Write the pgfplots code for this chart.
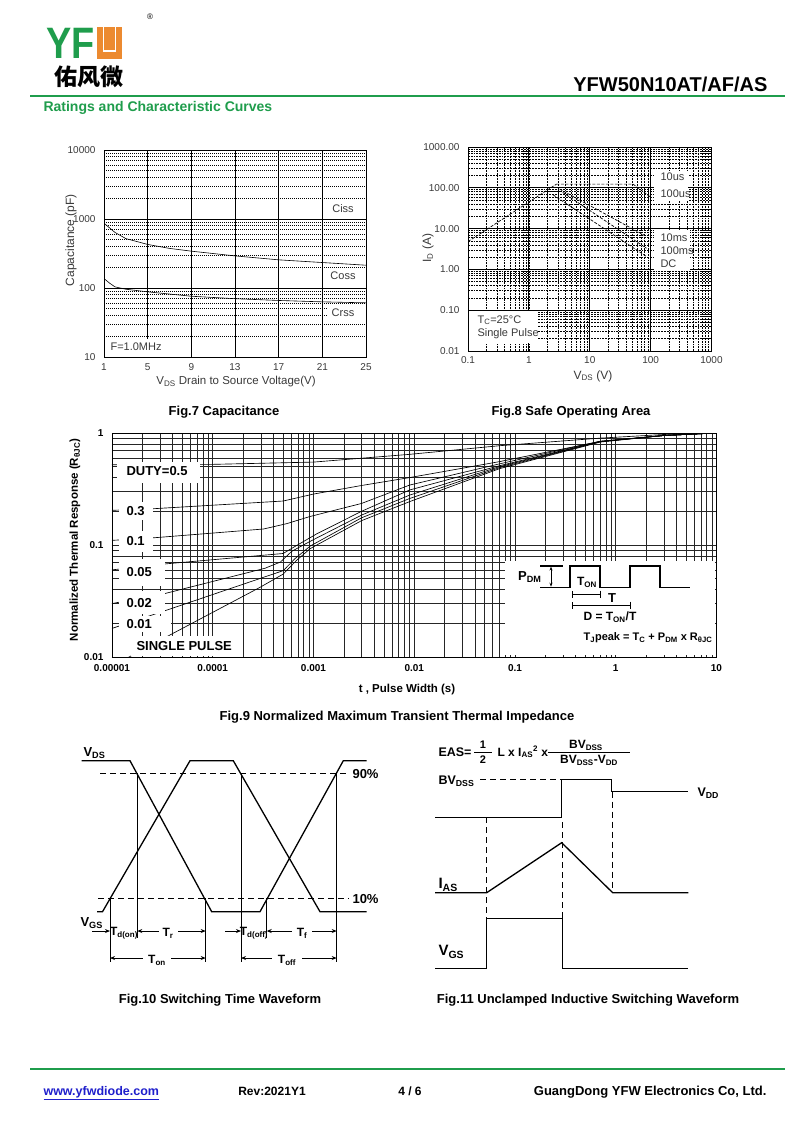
\documentclass[border=0pt]{standalone}
\usepackage{pgfplots}
\pgfplotsset{compat=1.18}
\usepackage{graphicx}
\usepackage{fontspec}
\setmainfont{Liberation Sans}
\newfontfamily\cjk{Noto Sans CJK SC}
\usetikzlibrary{arrows.meta}

\definecolor{yfwgreen}{HTML}{1F9D4C}
\definecolor{yfworange}{HTML}{EC8A30}
\definecolor{labgray}{HTML}{3A3A3A}
\definecolor{linkblue}{HTML}{1F1FCC}

\newcommand{\fsz}[1]{\fontsize{#1}{#1}\selectfont}
\newcommand{\sub}[1]{\textsubscript{#1}}

\pgfplotsset{
  page/.style={scale only axis, anchor=north west},
  wave/.style={black, line width=1.3pt},
  dim/.style={black, line width=0.9pt},
  dsh/.style={black, line width=1.1pt, dash pattern=on 6pt off 4pt},
  soa/.style={black, line width=0.7pt, dash pattern=on 3pt off 1.5pt},
}

\begin{document}
\begin{tikzpicture}
\fill[white] (0,0) rectangle (800pt,-1130pt);
\path[use as bounding box] (0,0) rectangle (800pt,-1130pt);

% ---------- Fig.7 capacitance
\begin{axis}[page, at={(104pt,-150pt)}, width=262pt, height=207pt,
  xmin=1, xmax=25, ymode=log, ymin=10, ymax=10000,
  xtick={1,5,9,13,17,21,25}, xticklabels={1,5,9,13,17,21,25},
  ytick={10,100,1000,10000}, yticklabels={10,100,1000,10000},
  xmajorgrids, ymajorgrids, yminorgrids,
  major grid style={black, line width=0.7pt},
  minor grid style={black, line width=0.6pt, dash pattern=on 1.2pt off 0.8pt},
  major tick length=0pt, minor tick length=0pt,
  axis line style={black, line width=0.8pt},
  tick label style={font=\fsz{10}, text=labgray},
  xticklabel style={yshift=-3pt}, yticklabel style={xshift=-5pt}]
\addplot[black, line width=0.6pt] coordinates {(1,870) (2,640) (3,520) (5,428) (7,375) (9,342) (13,292) (17,256) (21,234) (25,214)};
\addplot[black, line width=0.6pt] coordinates {(1,137) (1.5,118) (2,104) (3,96) (5,88) (9,76) (13,70) (17,66) (21,63) (25,61)};
\end{axis}

% ---------- Fig.8 safe operating area
\begin{axis}[page, at={(468pt,-147pt)}, width=243.5pt, height=204pt,
  xmode=log, ymode=log, xmin=0.1, xmax=1000, ymin=0.01, ymax=1000,
  xtick={0.1,1,10,100,1000}, xticklabels={0.1,1,10,100,1000},
  ytick={0.01,0.1,1,10,100,1000}, yticklabels={0.01,0.10,1.00,10.00,100.00,1000.00},
  grid=both,
  major grid style={black, line width=0.9pt},
  minor grid style={black, line width=0.65pt, dash pattern=on 1.8pt off 1pt},
  major tick length=0pt, minor tick length=0pt,
  axis line style={black, line width=0.8pt},
  tick label style={font=\fsz{10}, text=labgray},
  xticklabel style={yshift=-2pt}, yticklabel style={xshift=-5pt}]
\addplot[soa] coordinates {(0.1,4.8) (2.84,123)};
\addplot[soa] coordinates {(2.84,123) (51.5,123) (97,61)};
\addplot[black, line width=1.2pt, dash pattern=on 2pt off 1pt] coordinates {(1.6,80) (3.2,80)};
\addplot[soa] coordinates {(3.2,93) (85.5,6.4)};
\addplot[soa] coordinates {(3.6,77) (85.5,3.3)};
\addplot[soa] coordinates {(2.5,67) (85.5,2.07)};
\end{axis}

% ---------- Fig.9 transient thermal impedance
\begin{axis}[page, at={(112pt,-433pt)}, width=604.5pt, height=224pt,
  xmode=log, ymode=log, xmin=1e-5, xmax=10, ymin=0.01, ymax=1,
  xtick={1e-5,1e-4,1e-3,1e-2,1e-1,1,10},
  xticklabels={0.00001,0.0001,0.001,0.01,0.1,1,10},
  ytick={0.01,0.1,1}, yticklabels={0.01,0.1,1},
  grid=both,
  major grid style={black!85, line width=0.55pt},
  minor grid style={black!85, line width=0.55pt},
  major tick length=0pt, minor tick length=0pt,
  axis line style={black, line width=0.8pt},
  tick label style={font=\fsz{10}\bfseries},
  xticklabel style={yshift=-4pt}, yticklabel style={xshift=-5pt}]
\addplot[black, line width=0.65pt] coordinates {(1e-5,0.52) (1e-4,0.525) (1e-3,0.55) (9e-3,0.645) (7e-2,0.77) (0.7,0.9) (3,0.97) (10,1.0)};
\addplot[black, line width=0.65pt] coordinates {(1e-5,0.204) (2.6e-5,0.211) (5e-4,0.247) (1e-3,0.285) (3e-3,0.34) (9e-3,0.40) (7e-2,0.555) (0.7,0.84) (3,0.95) (10,1.0)};
\addplot[black, line width=0.65pt] coordinates {(1e-5,0.11) (2.6e-5,0.116) (3.2e-4,0.139) (5.4e-4,0.155) (9.3e-4,0.18) (3e-3,0.235) (9e-3,0.343) (7e-2,0.53) (0.7,0.845) (3,0.95) (10,1.0)};
\addplot[black, line width=0.65pt] coordinates {(1e-5,0.06) (3.5e-5,0.068) (5e-4,0.084) (6.8e-4,0.099) (1.08e-3,0.126) (3e-3,0.20) (9e-3,0.31) (7e-2,0.51) (0.7,0.84) (3,0.95) (10,1.0)};
\addplot[black, line width=0.65pt] coordinates {(1e-5,0.030) (3.4e-5,0.037) (3.3e-4,0.062) (4.7e-4,0.0705) (6.1e-4,0.088) (9.3e-4,0.108) (3e-3,0.185) (9e-3,0.279) (7e-2,0.50) (0.7,0.84) (3,0.95) (10,1.0)};
\addplot[black, line width=0.65pt] coordinates {(1e-5,0.018) (3.4e-5,0.026) (3.3e-4,0.052) (5e-4,0.059) (6.6e-4,0.076) (9.3e-4,0.098) (3e-3,0.175) (9e-3,0.26) (7e-2,0.49) (0.7,0.835) (3,0.95) (10,1.0)};
\addplot[black, line width=0.65pt] coordinates {(1.3e-5,0.0094) (3.9e-5,0.016) (2.96e-4,0.042) (5e-4,0.055) (6.8e-4,0.073) (9.3e-4,0.093) (3e-3,0.165) (9e-3,0.244) (7e-2,0.48) (0.7,0.83) (3,0.95) (10,1.0)};
\end{axis}

% ---------- page overlay: texts, boxes, waveform diagrams (pixel units)
\begin{axis}[page, at={(0pt,0pt)}, width=800pt, height=1130pt,
  xmin=0, xmax=800, ymin=0, ymax=1130, y dir=reverse,
  axis lines=none, clip=false,
  every node/.append style={inner sep=0pt, outer sep=0pt}]

% header
\draw[yfwgreen, line width=2pt] (30,96) -- (785,96);
\node[anchor=base west, text=yfwgreen, font=\fsz{44}\bfseries] at (43,58.5) {\scalebox{0.86}[1]{YF}};
\fill[yfworange] (97,27) rectangle (122,58.5);
\draw[white, line width=1.4pt] (103.5,27) -- (103.5,51) -- (115.5,51) -- (115.5,27);
\node[font=\fsz{8}] at (150,17) {\textregistered};
\node[font=\cjk\fsz{23}\bfseries] at (89,77) {佑风微};
\node[anchor=base east, font=\fsz{20}\bfseries] at (771,91) {YFW50N10AT/AF/AS};
\node[anchor=base west, text=yfwgreen, font=\fsz{14}\bfseries] at (40,111) {Ratings and Characteristic Curves};

% fig7 texts
\fill[white] (327,200) rectangle (365,217);
\fill[white] (327,268) rectangle (365,284);
\fill[white] (327,306) rectangle (365,322);
\fill[white] (104.5,339) rectangle (160,356.5);
\node[font=\fsz{11}, text=labgray] at (343,209) {Ciss};
\node[font=\fsz{11}, text=labgray] at (343,276) {Coss};
\node[font=\fsz{11}, text=labgray] at (343,313) {Crss};
\node[anchor=west, font=\fsz{11}, text=labgray] at (107,347) {F=1.0MHz};
\node[rotate=90, font=\fsz{12}, text=labgray] at (71,240) {Capacitance (pF)};
\node[font=\fsz{11.5}, text=labgray] at (236,382) {V\sub{DS} Drain to Source Voltage(V)};
\node[anchor=base, font=\fsz{13}\bfseries] at (224,415) {Fig.7 Capacitance};

% fig8 texts
\fill[white] (654,171) rectangle (688,201);
\fill[white] (654,230) rectangle (690,270);
\fill[white] (469,311) rectangle (537,343);
\node[anchor=west, font=\fsz{11}, text=labgray] at (657,177) {10us};
\node[anchor=west, font=\fsz{11}, text=labgray] at (657,194) {100us};
\node[anchor=west, font=\fsz{11}, text=labgray] at (657,238) {10ms};
\node[anchor=west, font=\fsz{11}, text=labgray] at (657,251) {100ms};
\node[anchor=west, font=\fsz{11}, text=labgray] at (657,264) {DC};
\node[anchor=west, font=\fsz{11}, text=labgray] at (474,320) {T\sub{C}=25°C};
\node[anchor=west, font=\fsz{11}, text=labgray] at (474,334) {Single Pulse};
\node[rotate=90, font=\fsz{12}, text=labgray] at (428,248) {I\sub{D} (A)};
\node[font=\fsz{12}, text=labgray] at (593,376) {V\sub{DS} (V)};
\node[anchor=base, font=\fsz{13}\bfseries] at (571,415) {Fig.8 Safe Operating Area};

% fig9 labels
\fill[white] (117,462) rectangle (200,483);
\fill[white] (119,502) rectangle (153,520);
\fill[white] (119,531) rectangle (153,552);
\fill[white] (119,559) rectangle (165,586);
\fill[white] (119,591) rectangle (165,614);
\fill[white] (119,616) rectangle (171,632);
\fill[white] (131,636) rectangle (240,656);
\node[anchor=west, font=\fsz{13}\bfseries] at (123,471) {DUTY=0.5};
\node[anchor=west, font=\fsz{13}\bfseries] at (123,511) {0.3};
\node[anchor=west, font=\fsz{13}\bfseries] at (123,541) {0.1};
\node[anchor=west, font=\fsz{13}\bfseries] at (123,572) {0.05};
\node[anchor=west, font=\fsz{13}\bfseries] at (123,603) {0.02};
\node[anchor=west, font=\fsz{13}\bfseries] at (123,624) {0.01};
\node[anchor=west, font=\fsz{13}\bfseries] at (133,646) {SINGLE PULSE};
\node[rotate=90, font=\fsz{11.5}\bfseries] at (75,540) {Normalized Thermal Response (R\sub{θJC})};
\node[anchor=base, font=\fsz{11.5}\bfseries] at (407,692) {t , Pulse Width (s)};
\node[anchor=base, font=\fsz{13}\bfseries] at (397,720) {Fig.9 Normalized Maximum Transient Thermal Impedance};

% fig9 inset
\fill[white] (505,561) rectangle (715.4,655.4);
\addplot[black, line width=1.1pt] coordinates {(540,587.3) (570,587.3) (570,566) (600,566) (600,587.3) (630,587.3) (630,566) (660,566) (660,587.3) (690,587.3)};
\addplot[black, line width=1.1pt] coordinates {(540,566) (563,566)};
\addplot[black, line width=0.8pt, {Stealth[length=4pt,width=3pt]}-{Stealth[length=4pt,width=3pt]}] coordinates {(551,566.6) (551,586.7)};
\addplot[black, line width=1pt, |-|] coordinates {(572,594) (601,594)};
\addplot[black, line width=1pt, |-|] coordinates {(572,605) (631,605)};
\node[anchor=east, font=\fsz{13}\bfseries] at (545,577) {P\sub{DM}};
\node[font=\fsz{12}\bfseries] at (587,582) {T\sub{ON}};
\node[font=\fsz{13}\bfseries] at (612,598) {T};
\node[anchor=west, font=\fsz{12}\bfseries] at (580,617) {D = T\sub{ON}/T};
\node[anchor=west, font=\fsz{11}\bfseries] at (580,638) {T\sub{J}peak = T\sub{C} + P\sub{DM} x R\sub{θJC}};

% fig10 switching waveform
\addplot[wave] coordinates {(81.7,760.7) (130,760.7) (211.7,911.7) (260,911.7) (343.3,760.7) (366.7,760.7)};
\addplot[wave] coordinates {(97,911.7) (102.5,911.7) (190,760.7) (233.3,760.7) (320,911.7) (366.7,911.7)};
\addplot[dsh] coordinates {(100,773.3) (349,773.3)};
\addplot[dsh] coordinates {(98,898.3) (349,898.3)};
\addplot[dim] coordinates {(110,898.3) (110,961.7)};
\addplot[dim] coordinates {(137.3,773.3) (137.3,938)};
\addplot[dim] coordinates {(205.7,898.3) (205.7,961.7)};
\addplot[dim] coordinates {(241,773.3) (241,961.7)};
\addplot[dim] coordinates {(266.7,898.3) (266.7,938)};
\addplot[dim] coordinates {(336.7,773.3) (336.7,961.7)};
\addplot[dim, -{Stealth[length=5pt,width=4pt]}] coordinates {(92,931) (110,931)};
\addplot[dim, {Stealth[length=5pt,width=4pt]}-] coordinates {(137.3,931) (159,931)};
\addplot[dim, -{Stealth[length=5pt,width=4pt]}] coordinates {(178,931) (205.7,931)};
\addplot[dim, -{Stealth[length=5pt,width=4pt]}] coordinates {(225,931) (241,931)};
\addplot[dim, {Stealth[length=5pt,width=4pt]}-] coordinates {(266.7,931) (292,931)};
\addplot[dim, -{Stealth[length=5pt,width=4pt]}] coordinates {(312,931) (336.7,931)};
\addplot[dim, {Stealth[length=5pt,width=4pt]}-] coordinates {(110,958) (143,958)};
\addplot[dim, -{Stealth[length=5pt,width=4pt]}] coordinates {(171,958) (205.7,958)};
\addplot[dim, {Stealth[length=5pt,width=4pt]}-] coordinates {(241,958) (272,958)};
\addplot[dim, -{Stealth[length=5pt,width=4pt]}] coordinates {(302,958) (336.7,958)};
\node[anchor=west, font=\fsz{13}\bfseries] at (80,753) {V\sub{DS}};
\node[anchor=west, font=\fsz{13}\bfseries] at (77,923) {V\sub{GS}};
\node[anchor=west, font=\fsz{13}\bfseries] at (349,774) {90\%};
\node[anchor=west, font=\fsz{13}\bfseries] at (349,899) {10\%};
\node[font=\fsz{12}\bfseries] at (124,933) {T\sub{d(on)}};
\node[font=\fsz{12}\bfseries] at (168,933) {T\sub{r}};
\node[font=\fsz{12}\bfseries] at (254,933) {T\sub{d(off)}};
\node[font=\fsz{12}\bfseries] at (302,933) {T\sub{f}};
\node[font=\fsz{12}\bfseries] at (157,960) {T\sub{on}};
\node[font=\fsz{12}\bfseries] at (287,960) {T\sub{off}};
\node[anchor=base, font=\fsz{13}\bfseries] at (220,1003) {Fig.10 Switching Time Waveform};

% fig11 unclamped inductive switching
\node[anchor=west, font=\fsz{12.5}\bfseries] at (435,752) {EAS=};
\addplot[black, line width=0.7pt] coordinates {(474,752) (492,752)};
\node[font=\fsz{11}\bfseries] at (483,745) {1};
\node[font=\fsz{11}\bfseries] at (483,760) {2};
\node[anchor=west, font=\fsz{12}\bfseries] at (494,752) {L x I\sub{AS}\textsuperscript{2} x};
\addplot[black, line width=0.7pt] coordinates {(548,752) (630,752)};
\node[font=\fsz{12}\bfseries] at (586,745) {BV\sub{DSS}};
\node[font=\fsz{12}\bfseries] at (589,760) {BV\sub{DSS}-V\sub{DD}};
\addplot[wave] coordinates {(435,817.3) (561.7,817.3) (561.7,779.3) (611.7,779.3) (611.7,791.7) (688.3,791.7)};
\addplot[dsh] coordinates {(480,779.3) (561.7,779.3)};
\addplot[wave] coordinates {(435,892.7) (486.7,892.7) (561.7,842.7) (612.7,892.7) (688.3,892.7)};
\addplot[wave] coordinates {(435,968.3) (486.7,968.3) (486.7,918.3) (562.7,918.3) (562.7,968.3) (688.3,968.3)};
\addplot[dsh] coordinates {(486.7,817.3) (486.7,918.3)};
\addplot[dsh] coordinates {(562.7,822) (562.7,918.3)};
\addplot[dsh] coordinates {(612.7,791.7) (612.7,892.7)};
\node[anchor=west, font=\fsz{12.5}\bfseries] at (435,781) {BV\sub{DSS}};
\node[anchor=west, font=\fsz{12.5}\bfseries] at (694,793) {V\sub{DD}};
\node[anchor=west, font=\fsz{15}\bfseries] at (435,885) {I\sub{AS}};
\node[anchor=west, font=\fsz{15}\bfseries] at (435,952) {V\sub{GS}};
\node[anchor=base, font=\fsz{13}\bfseries] at (588,1003) {Fig.11 Unclamped Inductive Switching Waveform};

% footer
\draw[yfwgreen, line width=2.5pt] (30,1069) -- (785,1069);
\node[anchor=base west, font=\fsz{12.5}\bfseries, text=linkblue] at (40,1095) {\underline{www.yfwdiode.com}};
\node[anchor=base, font=\fsz{12}\bfseries] at (272,1095) {Rev:2021Y1};
\node[anchor=base, font=\fsz{12}\bfseries] at (410,1095) {4 / 6};
\node[anchor=base east, font=\fsz{13}\bfseries] at (770,1095) {GuangDong YFW Electronics Co, Ltd.};
\end{axis}
\end{tikzpicture}
\end{document}
